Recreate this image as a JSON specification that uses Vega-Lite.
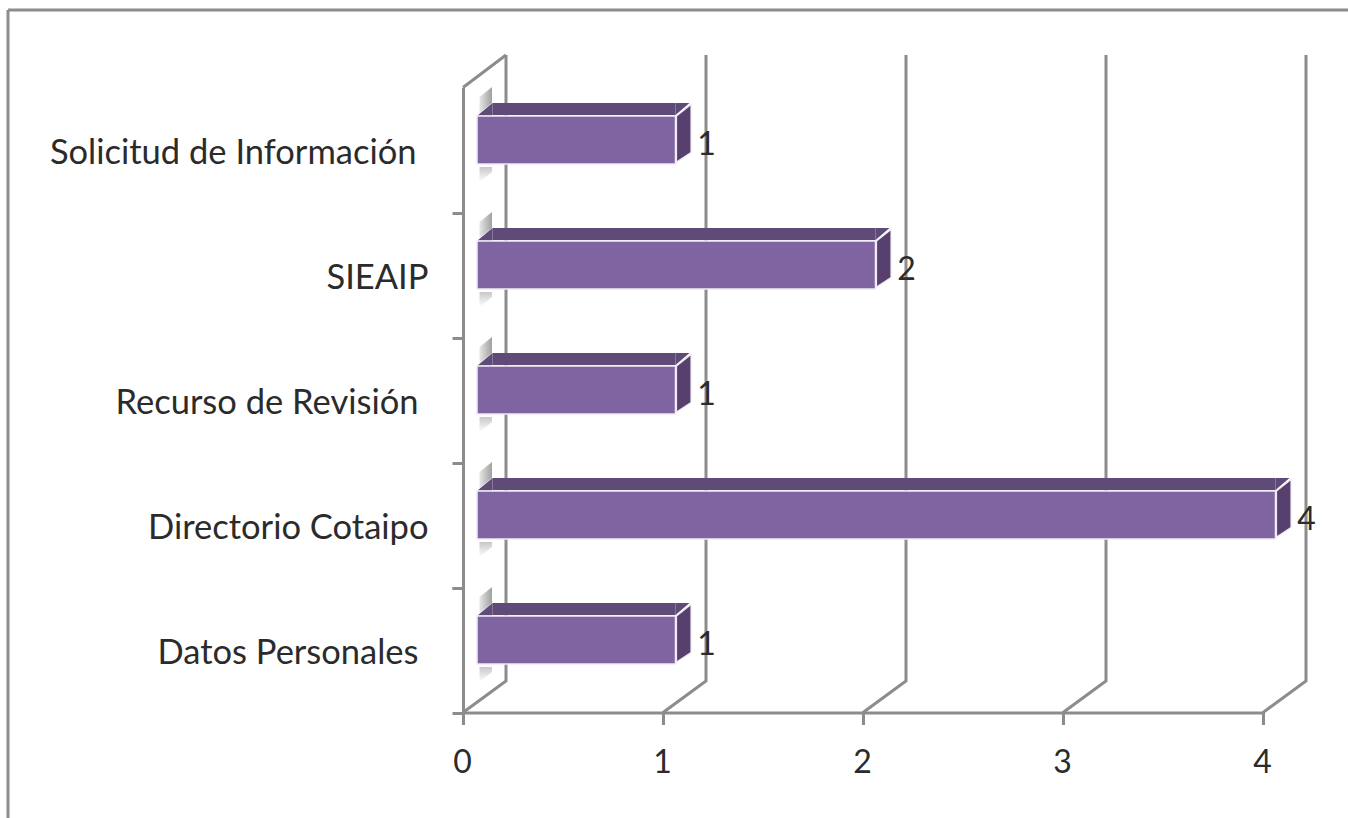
{
"$schema":"https://vega.github.io/schema/vega-lite/v6.json",
"width":1340,"height":808,
"autosize":{"type":"none"},
"padding":{"left":8,"top":10,"right":0,"bottom":0},
"background":"white",
"view":{"stroke":"#8c8c8c","strokeWidth":3,"strokeDash":[1340,2148,808,0],"fill":null},
"config":{"font":"Lato"},
"datasets":{
"bars":[
{"category":"Datos Personales","value":1},
{"category":"Directorio Cotaipo","value":4},
{"category":"Recurso de Revisión","value":1},
{"category":"SIEAIP","value":2},
{"category":"Solicitud de Información","value":1}
],
"ticks":[{"tick":0},{"tick":1},{"tick":2},{"tick":3},{"tick":4}]
},
"encoding":{
"y":{"field":"category","type":"nominal","title":null,
"scale":{"domain":["Datos Personales","Directorio Cotaipo","Recurso de Revisión","SIEAIP","Solicitud de Información"],"range":[702.5,77.5],"paddingInner":0,"paddingOuter":0},
"axis":{"offset":-455,"tickBand":"extent","domainColor":"#8c8c8c","domainWidth":3,"tickColor":"#8c8c8c","tickWidth":3,"tickSize":11,"labelFont":"Lato","labelFontSize":34.5,"labelColor":"#2b2b2b","labelOffset":3.5,
"labelPadding":{"condition":[{"test":"datum.label === 'SIEAIP' || datum.label === 'Directorio Cotaipo'","value":24},{"test":"datum.label === 'Solicitud de Información'","value":36}],"value":34},
"labelLimit":500,"labelBaseline":"middle","grid":false,"labelOverlap":false}}
},
"layer":[
{"data":{"name":"ticks"},
"mark":{"type":"point","filled":false,"stroke":"#8c8c8c","strokeWidth":3,"opacity":1,"size":4,"shape":"M0,62.5 L43,31 L43,-595"},
"encoding":{
"x":{"field":"tick","type":"quantitative","title":null,
"scale":{"domain":[0,4],"range":[455,1255],"nice":false,"zero":false},
"axis":{"offset":-105.5,"values":[0,1,2,3,4],"format":"d","grid":false,"domainColor":"#8c8c8c","domainWidth":3,"tickColor":"#8c8c8c","tickWidth":3,"tickSize":12,"labelFont":"Lato","labelFontSize":32,"labelColor":"#2b2b2b","labelPadding":23,"labelFlush":false,"labelOverlap":false,"labelOffset":-1}},
"y":{"datum":"Datos Personales"}}},
{"data":{"values":[{"tick":0}]},
"mark":{"type":"point","filled":false,"stroke":"#8c8c8c","strokeWidth":3,"opacity":1,"size":4,"shape":"M0,-562.5 L43,-595"},
"encoding":{"x":{"field":"tick","type":"quantitative"},"y":{"datum":"Datos Personales"}}},
{"data":{"name":"bars"},
"mark":{"type":"point","filled":true,"opacity":1,"size":4,"strokeWidth":0,"shape":"M16.5,-37 L29,-47 L29,-63 L16.5,-53 Z",
"fill":{"gradient":"linear","x1":0,"y1":0,"x2":1,"y2":0,"stops":[{"offset":0,"color":"#e6e6e6"},{"offset":1,"color":"#a0a0a0"}]}},
"encoding":{"x":{"datum":0}}},
{"data":{"name":"bars"},
"mark":{"type":"point","filled":true,"opacity":1,"size":4,"strokeWidth":0,"shape":"M16.5,17 L29,17 L29,22 L16.5,32 Z",
"fill":{"gradient":"linear","x1":0,"y1":0,"x2":0,"y2":1,"stops":[{"offset":0,"color":"#c8c8c8"},{"offset":1,"color":"#ffffff"}]}},
"encoding":{"x":{"datum":0}}},
{"data":{"name":"bars"},
"mark":{"type":"bar","size":12,"color":"#5f4a78","yOffset":-41,"xOffset":12.5,"x2Offset":29.5},
"encoding":{"x":{"field":"value","type":"quantitative"},"x2":{"datum":0}}},
{"data":{"name":"bars"},
"mark":{"type":"point","filled":true,"opacity":1,"size":4,"color":"#5f4a78","strokeWidth":0,"shape":"M14.5,-34.5 L29.5,-47 L29.5,-34.5 Z"},
"encoding":{"x":{"datum":0}}},
{"data":{"name":"bars"},
"mark":{"type":"point","filled":true,"opacity":1,"size":4,"color":"#5f4a78","strokeWidth":0,"shape":"M12.5,-35 L12.5,-47 L26.5,-47 Z"},
"encoding":{"x":{"field":"value","type":"quantitative"}}},
{"data":{"name":"bars"},
"mark":{"type":"point","filled":true,"opacity":1,"size":4,"fill":"#57406e","stroke":"#efeaf3","strokeWidth":1.2,"shape":"M13.5,-34 L28,-45.5 L28,2.5 L13.5,12 Z"},
"encoding":{"x":{"field":"value","type":"quantitative"}}},
{"data":{"name":"bars"},
"mark":{"type":"bar","size":48,"fill":"#8064a2","stroke":"#efeaf3","strokeWidth":1.5,"yOffset":-10,"xOffset":12.5,"x2Offset":14},
"encoding":{"x":{"field":"value","type":"quantitative"},"x2":{"datum":0}}},
{"data":{"name":"bars"},
"mark":{"type":"text","font":"Lato","fontSize":32,"color":"#2b2b2b","align":"center","baseline":"middle","xOffset":43.5,"yOffset":-5},
"encoding":{"x":{"field":"value","type":"quantitative"},"text":{"field":"value","type":"quantitative","format":"d"}}}
]
}
